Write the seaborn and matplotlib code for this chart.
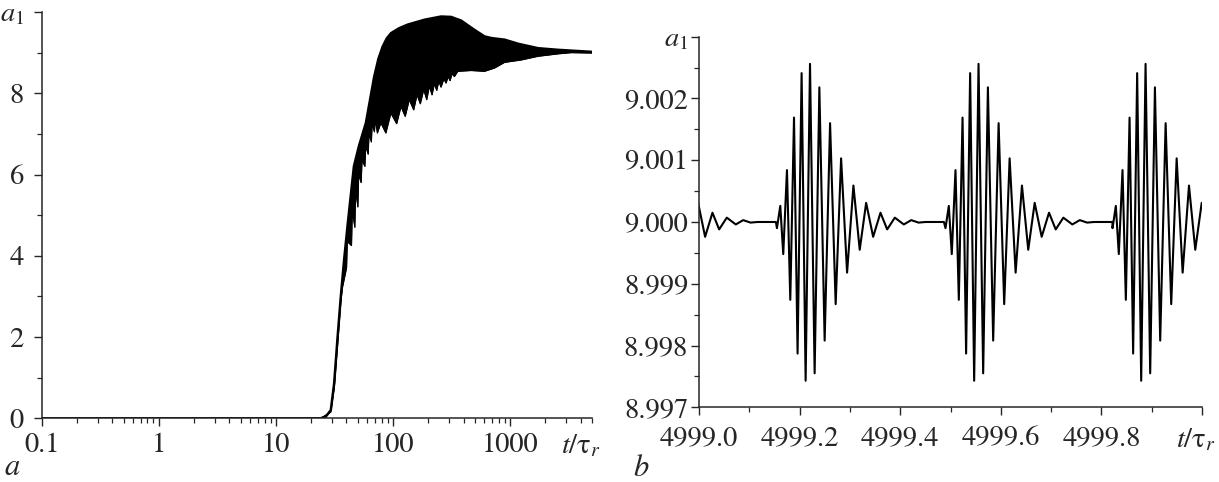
import numpy as np
import pandas as pd
import seaborn as sns
import matplotlib.pyplot as plt
from matplotlib.ticker import MultipleLocator, FixedLocator, FixedFormatter, LogLocator, NullFormatter

# ---- panel a: envelope of a1(t) ----
t_upper = [0.1, 24.1, 26.6, 29.4, 31.4, 33.6, 35.8, 38.2, 40.9, 43.6, 46.3, 51.1, 58.6,
           69.0, 75.0, 81.5, 88.3, 96.0, 112.3, 133, 157, 185, 257, 313, 381, 496, 604,
           689, 896, 1166, 1730, 2566, 3336, 5000]
a_upper = [0.0, 0.0, 0.04, 0.2, 0.86, 2.0, 3.0, 3.9, 4.75, 5.5, 6.2, 6.7, 7.27,
           8.41, 8.85, 9.15, 9.35, 9.48, 9.6, 9.69, 9.75, 9.81, 9.89, 9.88, 9.79, 9.56, 9.40,
           9.36, 9.32, 9.22, 9.11, 9.07, 9.05, 9.02]

# lower edge with the downward teeth
t_lower = [0.1, 24.1, 29.4, 31.5, 33.8, 35.8, 36.9, 40.1, 40.7, 44.2, 44.9, 47.2, 47.9,
           50.1, 50.9, 53.4, 54.4, 57.5, 58.4, 61.3, 62.4, 65.3, 66.4, 69.3, 70.7, 73.5,
           78.7, 86.9, 95.9, 107.4, 116.9, 127.1, 137.6, 150.1, 160.3, 171.0, 182.8, 194.0,
           204.2, 215.3, 225.3, 236.2, 245.7, 257, 271.2, 283.8, 295.1, 306.9, 319.3, 334.2,
           357.3, 464.5, 604, 735, 896, 1245, 1730, 2566, 3336, 5000]
a_lower = [0.0, 0.0, 0.15, 0.75, 1.9, 2.85, 3.2, 3.7, 4.35, 4.25, 5.1, 4.7, 5.6,
           5.2, 6.0, 5.8, 6.35, 6.2, 6.7, 6.5, 7.0, 6.8, 7.25, 7.05, 7.35, 7.02,
           7.27, 7.02, 7.51, 7.25, 7.67, 7.43, 7.84, 7.59, 7.96, 7.74, 8.09, 7.84,
           8.17, 7.96, 8.23, 8.07, 8.29, 8.15, 8.35, 8.25, 8.41, 8.31, 8.48, 8.41,
           8.54, 8.56, 8.54, 8.62, 8.76, 8.82, 8.91, 8.97, 9.00, 8.99]

# ---- panel b: one burst of a1 (extrema), offsets from burst start ----
burst_dt = [0.0, 0.0066, 0.0125, 0.0199, 0.0265, 0.0339, 0.0410, 0.0490, 0.0570, 0.0657,
            0.0749, 0.0843, 0.0948, 0.1056, 0.1167, 0.1275, 0.1394, 0.1520, 0.1645, 0.1773,
            0.1912, 0.2058, 0.2191, 0.2343, 0.2522, 0.2669, 0.2815, 0.2954, 0.3319]
burst_a1 = [8.99990, 9.00026, 8.99948, 9.00084, 8.99874, 9.00169, 8.99787, 9.00241, 8.99743,
            9.00256, 8.99755, 9.00218, 8.99808, 9.00160, 8.99867, 9.00103, 8.99918, 9.00059,
            8.99955, 9.00031, 8.99976, 9.00015, 8.99988, 9.00007, 8.99996, 9.00003, 8.99999,
            9.00000, 9.00000]
burst_start = [4998.821, 4999.155, 4999.490, 4999.822]

left_yticks = [0, 2, 4, 6, 8, 10]
left_ylabels = ['0', '2', '4', '6', '8', '$a_1$']
left_xticks = [0.1, 1, 10, 100, 1000]
left_xlabels = ['0.1', '1', '10', '100', '1000']
right_yticks = [8.997, 8.998, 8.999, 9.000, 9.001, 9.002, 9.003]
right_ylabels = ['8.997', '8.998', '8.999', '9.000', '9.001', '9.002', '$a_1$']
right_xticks = [4999.0, 4999.2, 4999.4, 4999.6, 4999.8, 5000.0]
right_xlabels = ['4999.0', '4999.2', '4999.4', '4999.6', '4999.8', '']
time_label = '$t$/τ$_r$'

sns.set_style('ticks')
plt.rcParams['font.family'] = ['STIXGeneral', 'DejaVu Serif']
plt.rcParams['mathtext.fontset'] = 'stix'
plt.rcParams['axes.linewidth'] = 1.1
plt.rcParams['xtick.major.size'] = 5.8
plt.rcParams['ytick.major.size'] = 5.8
plt.rcParams['xtick.minor.size'] = 3.3
plt.rcParams['ytick.minor.size'] = 3.3
plt.rcParams['xtick.major.width'] = 1.0
plt.rcParams['ytick.major.width'] = 1.0
plt.rcParams['xtick.minor.width'] = 0.9
plt.rcParams['ytick.minor.width'] = 0.9
plt.rcParams['xtick.direction'] = 'out'
plt.rcParams['ytick.direction'] = 'out'

FS = 20.5
fig = plt.figure(figsize=(12.19, 4.82), dpi=100)
ax1 = fig.add_axes([0.0342, 0.1322, 0.4515, 0.8428])
ax2 = fig.add_axes([0.5734, 0.155, 0.4127, 0.7689])

# panel a
env = pd.DataFrame({'t': t_upper, 'a1': a_upper})
low = pd.DataFrame({'t': t_lower, 'a1': a_lower})
ax1.fill(np.concatenate([env['t'], low['t'][::-1]]),
         np.concatenate([env['a1'], low['a1'][::-1]]), color='black', lw=0.6)
sns.lineplot(data=env, x='t', y='a1', ax=ax1, color='black', lw=1.8,
             sort=False, estimator=None)
sns.lineplot(data=low, x='t', y='a1', ax=ax1, color='black', lw=0.8,
             sort=False, estimator=None)
ax1.set_xscale('log')
ax1.set_xlim(0.1, 5000)
ax1.set_ylim(0, 10)
ax1.xaxis.set_major_locator(FixedLocator(left_xticks))
ax1.xaxis.set_major_formatter(FixedFormatter(left_xlabels))
ax1.xaxis.set_minor_locator(LogLocator(base=10, subs=np.arange(2, 10)))
ax1.xaxis.set_minor_formatter(NullFormatter())
ax1.yaxis.set_major_locator(FixedLocator(left_yticks))
ax1.yaxis.set_major_formatter(FixedFormatter(left_ylabels))
ax1.yaxis.set_minor_locator(MultipleLocator(1))
ax1.tick_params(axis='x', pad=5)
ax1.tick_params(axis='y', pad=7)
ax1.annotate(time_label, xy=(4000, 0), xycoords=('data', 'axes fraction'),
             xytext=(0, -10.8), textcoords='offset points',
             ha='center', va='top', fontsize=FS)

# panel b
rows = []
for s in burst_start:
    for dt, v in zip(burst_dt, burst_a1):
        rows.append((s + dt, v))
wave = pd.DataFrame(rows, columns=['t', 'a1'])
sns.lineplot(data=wave, x='t', y='a1', ax=ax2, color='black', lw=1.5,
             sort=False, estimator=None)
ax2.set_xlim(4999.0, 5000.0)
ax2.set_ylim(8.997, 9.003)
ax2.xaxis.set_major_locator(FixedLocator(right_xticks))
ax2.xaxis.set_major_formatter(FixedFormatter(right_xlabels))
ax2.xaxis.set_minor_locator(MultipleLocator(0.1))
ax2.yaxis.set_major_locator(FixedLocator(right_yticks))
ax2.yaxis.set_major_formatter(FixedFormatter(right_ylabels))
ax2.yaxis.set_minor_locator(MultipleLocator(0.0005))
ax2.tick_params(axis='x', pad=8)
ax2.tick_params(axis='y', pad=2)
ax2.annotate(time_label, xy=(5000.0, 0), xycoords=('data', 'axes fraction'),
             xytext=(-4, -13.8), textcoords='offset points',
             ha='center', va='top', fontsize=FS)

for ax in (ax1, ax2):
    ax.set_xlabel('')
    ax.set_ylabel('')
    ax.tick_params(labelsize=FS)
    sns.despine(ax=ax)

# panel letters
fig.text(0.003, 0.014, '$a$', fontsize=22, va='baseline')
fig.text(0.519, 0.012, '$b$', fontsize=22, va='baseline')

fig.savefig('out.png', dpi=100)
